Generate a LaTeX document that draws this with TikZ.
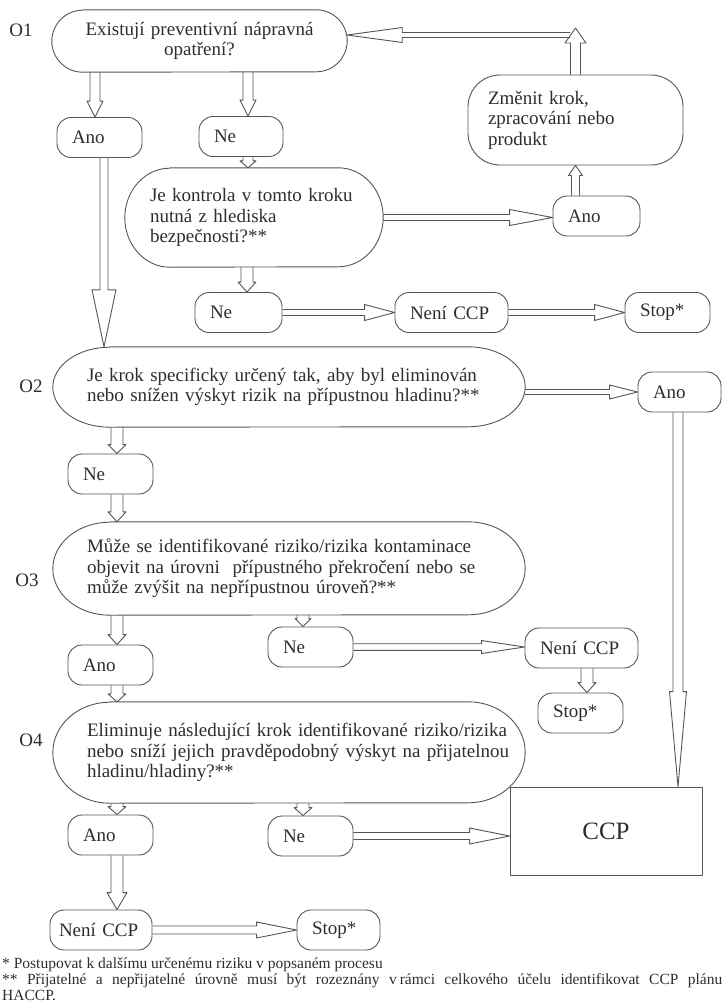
\documentclass[tikz,border=0pt]{standalone}
\usepackage{fontspec}
\setmainfont{Liberation Serif}
\usetikzlibrary{calc}
\definecolor{lc}{HTML}{555555}
\definecolor{tc}{HTML}{2E2E2E}
\newcommand\ovalline[3]{%
  \draw[lnstyle] ([xshift=#2]#1.north west) -- ([xshift=-#2]#1.north east)
    arc[start angle=90,end angle=-90,x radius=#2,y radius=#3]
    -- ([xshift=#2]#1.south west)
    arc[start angle=270,end angle=90,x radius=#2,y radius=#3] -- cycle;}
\tikzset{
  lnstyle/.style={draw=lc, line width=0.9pt, line join=round},
  hollow/.style n args={3}{to path={
    (\tikztostart) coordinate (hs) (\tikztotarget) coordinate (ht)
    ($(ht)!#3!(hs)$) coordinate (hh)
    ($(hs)!#1!90:(ht)$) -- ($(hh)!#1!90:(ht)$) -- ($(hh)!#2!90:(ht)$) -- (ht)
    -- ($(hh)!#2!-90:(ht)$) -- ($(hh)!#1!-90:(ht)$) -- ($(hs)!#1!-90:(ht)$)
  }},
  arr/.style={lnstyle},
  txt/.style={text=tc, font=\fontsize{19}{20.5}\selectfont},
  sm/.style={txt, lnstyle, rounded corners=14pt, minimum height=40pt, inner xsep=15pt, inner ysep=0pt, align=left},
  big/.style={txt, inner ysep=0pt, align=left},
  olab/.style={txt, inner sep=0pt},
  foot/.style={text=tc, font=\fontsize{15.5}{16}\selectfont, inner sep=0pt, anchor=base west},
}
\begin{document}
\begin{tikzpicture}[x=1pt,y=-1pt]
\useasboundingbox[fill=white] (0,0) rectangle (723,1004);

% labels
\node[olab] (o1) at (21,30) {O1};
\node[olab] (o2) at (31,386) {O2};
\node[olab] (o3) at (27,580) {O3};
\node[olab] (o4) at (31,740) {O4};

% big nodes
\node[big, align=center, text width=235pt, inner xsep=30pt, minimum height=62pt] (q1) at (199.5,41)
  {\mbox{Existují preventivní nápravná}\\opatření?};
\ovalline{q1}{31pt}{31pt}
\node[big, text width=208pt, inner xsep=25pt, minimum height=99pt] (qk) at (254,217.5)
  {\mbox{Je kontrola v tomto kroku}\\nutná z hlediska\\bezpečnosti?**};
\ovalline{qk}{45pt}{49.5pt}
\node[big, lnstyle, rounded corners=32pt, text width=175pt, inner xsep=20pt, minimum height=90pt] (zm) at (575.5,120)
  {Změnit krok,\\zpracování nebo\\produkt};
\node[big, text width=404pt, inner xsep=34pt, minimum height=80pt] (q2) at (289,387)
  {\mbox{Je krok specificky určený tak, aby byl eliminován}\\\mbox{nebo snížen výskyt rizik na přípustnou hladinu?**}};
\ovalline{q2}{57pt}{40pt}
\node[big, text width=404pt, inner xsep=34pt, minimum height=93pt] (q3) at (289,568.5)
  {\mbox{Může se identifikované riziko/rizika kontaminace}\\\mbox{objevit na úrovni\ \ přípustného překročení nebo se}\\\mbox{může zvýšit na nepřípustnou úroveň?**}};
\ovalline{q3}{57pt}{46.5pt}
\node[big, text width=404pt, inner xsep=34pt, minimum height=101pt] (q4) at (289,752.5)
  {\mbox{Eliminuje následující krok identifikované riziko/rizika}\\\mbox{nebo sníží jejich pravděpodobný výskyt na přijatelnou}\\\mbox{hladinu/hladiny?**}};
\ovalline{q4}{57pt}{50.5pt}

% small nodes
\node[sm, text width=55pt] (ano1) at (99.5,137.5) {Ano};
\node[sm, text width=54pt] (ne1) at (241,136.5) {Ne};
\node[sm, text width=57pt] (ano2) at (596.5,216) {Ano};
\node[sm, text width=57pt] (ne2) at (238.5,312.5) {Ne};
\node[sm, text width=83pt] (nc1) at (451.5,312.5) {Není CCP};
\node[sm, text width=55pt] (st1) at (667.5,312.5) {Stop*};
\node[sm, text width=53pt] (ano3) at (679.5,392) {Ano};
\node[sm, text width=55pt] (ne3) at (110.5,474) {Ne};
\node[sm, text width=55pt] (ne4) at (310.5,647) {Ne};
\node[sm, text width=83pt] (nc2) at (581.5,648) {Není CCP};
\node[sm, text width=55pt] (ano4) at (110.5,665) {Ano};
\node[sm, text width=55pt] (st2) at (580.5,713) {Stop*};
\node[sm, text width=55pt] (ano5) at (110.5,835) {Ano};
\node[sm, text width=55pt] (ne5) at (310.5,836) {Ne};
\node[sm, text width=84pt, inner xsep=9pt] (nc3) at (101,930) {\mbox{Není CCP}};
\node[sm, text width=53pt] (st3) at (338.5,930) {Stop*};
\node[lnstyle, text=tc, font=\fontsize{25}{27}\selectfont, minimum width=192pt, minimum height=88pt] (ccp) at (606,831) {CCP};

\coordinate (tu) at (575.5,28);
\coordinate (tl) at (570,35);

% connectors
\draw[arr] ([xshift=-4.5pt]ano1.north |- q1.south) to[hollow={5pt}{8pt}{16pt}] ([xshift=-4.5pt]ano1.north);
\draw[arr] ([xshift=7pt]ne1.north |- q1.south) to[hollow={5pt}{8pt}{16pt}] ([xshift=7pt]ne1.north);
\draw[arr] ([xshift=4.5pt]ano1.south) to[hollow={4pt}{12pt}{57pt}] ([xshift=4.5pt]ano1.south |- q2.north);
\draw[arr] ([xshift=7pt]ne1.south) to[hollow={5pt}{8pt}{7pt}] ([xshift=7pt]ne1.south |- qk.north);
\draw[arr] (qk.east) to[hollow={3pt}{8pt}{43pt}] (ano2.west |- qk.east);
\draw[arr] (zm.south |- ano2.north) to[hollow={4pt}{7pt}{10pt}] (zm.south);
\draw[arr] (zm.north) to[hollow={5pt}{10.5pt}{15pt}] (tu);
\draw[arr] (tl) to[hollow={2.5pt}{7.5pt}{55pt}] (q1.east |- tl);
\draw[arr] ([xshift=8.5pt]ne2.north |- qk.south) to[hollow={6pt}{9pt}{10pt}] ([xshift=8.5pt]ne2.north);
\draw[arr] (ne2.east) to[hollow={3pt}{8pt}{30pt}] (nc1.west);
\draw[arr] (nc1.east) to[hollow={3pt}{8pt}{30pt}] (st1.west);
\draw[arr] (q2.east |- ano3.west) to[hollow={2.5pt}{7pt}{28pt}] (ano3.west);
\draw[arr] ([xshift=6.5pt]ne3.north |- q2.south) to[hollow={6pt}{9pt}{9pt}] ([xshift=6.5pt]ne3.north);
\draw[arr] ([xshift=6.5pt]ne3.south) to[hollow={6pt}{9pt}{10pt}] ([xshift=6.5pt]ne3.south |- q3.north);
\draw[arr] ([xshift=-1.5pt]ano3.south) to[hollow={5pt}{8.5pt}{95pt}] ([xshift=-1.5pt]ano3.south |- ccp.north);
\draw[arr] ([xshift=6.5pt]ano4.north |- q3.south) to[hollow={6pt}{9pt}{10pt}] ([xshift=6.5pt]ano4.north);
\draw[arr] ([xshift=-7.5pt]ne4.north |- q3.south) to[hollow={6pt}{8pt}{8pt}] ([xshift=-7.5pt]ne4.north);
\draw[arr] (ne4.east) to[hollow={3.3pt}{6.5pt}{43pt}] (nc2.west |- ne4.east);
\draw[arr] ([xshift=5.5pt]nc2.south) to[hollow={6pt}{9pt}{10pt}] ([xshift=5.5pt]nc2.south |- st2.north);
\draw[arr] ([xshift=6.5pt]ano4.south) to[hollow={6pt}{9pt}{8pt}] ([xshift=6.5pt]ano4.south |- q4.north);
\draw[arr] ([xshift=6.5pt]ano5.north |- q4.south) to[hollow={6pt}{9pt}{8pt}] ([xshift=6.5pt]ano5.north);
\draw[arr] ([xshift=-7.5pt]ne5.north |- q4.south) to[hollow={6pt}{9pt}{8pt}] ([xshift=-7.5pt]ne5.north);
\draw[arr] (ne5.east) to[hollow={3.5pt}{8pt}{40pt}] (ccp.west |- ne5.east);
\draw[arr] ([xshift=6.5pt]ano5.south) to[hollow={6pt}{10pt}{17pt}] ([xshift=6.5pt]ano5.south |- nc3.north);
\draw[arr] (nc3.east) to[hollow={4pt}{8pt}{40pt}] (st3.west);

% footnotes
\node[foot] (f1) at (2,968) {* Postupovat k dalšímu určenému riziku v popsaném procesu};
\node[foot] (f2) at (2,984) {\makebox[720pt][s]{** Přijatelné a nepřijatelné úrovně musí být rozeznány v\kern3pt rámci celkového účelu identifikovat CCP plánu}};
\node[foot] (f3) at (2,1000) {HACCP.};
\end{tikzpicture}
\end{document}
